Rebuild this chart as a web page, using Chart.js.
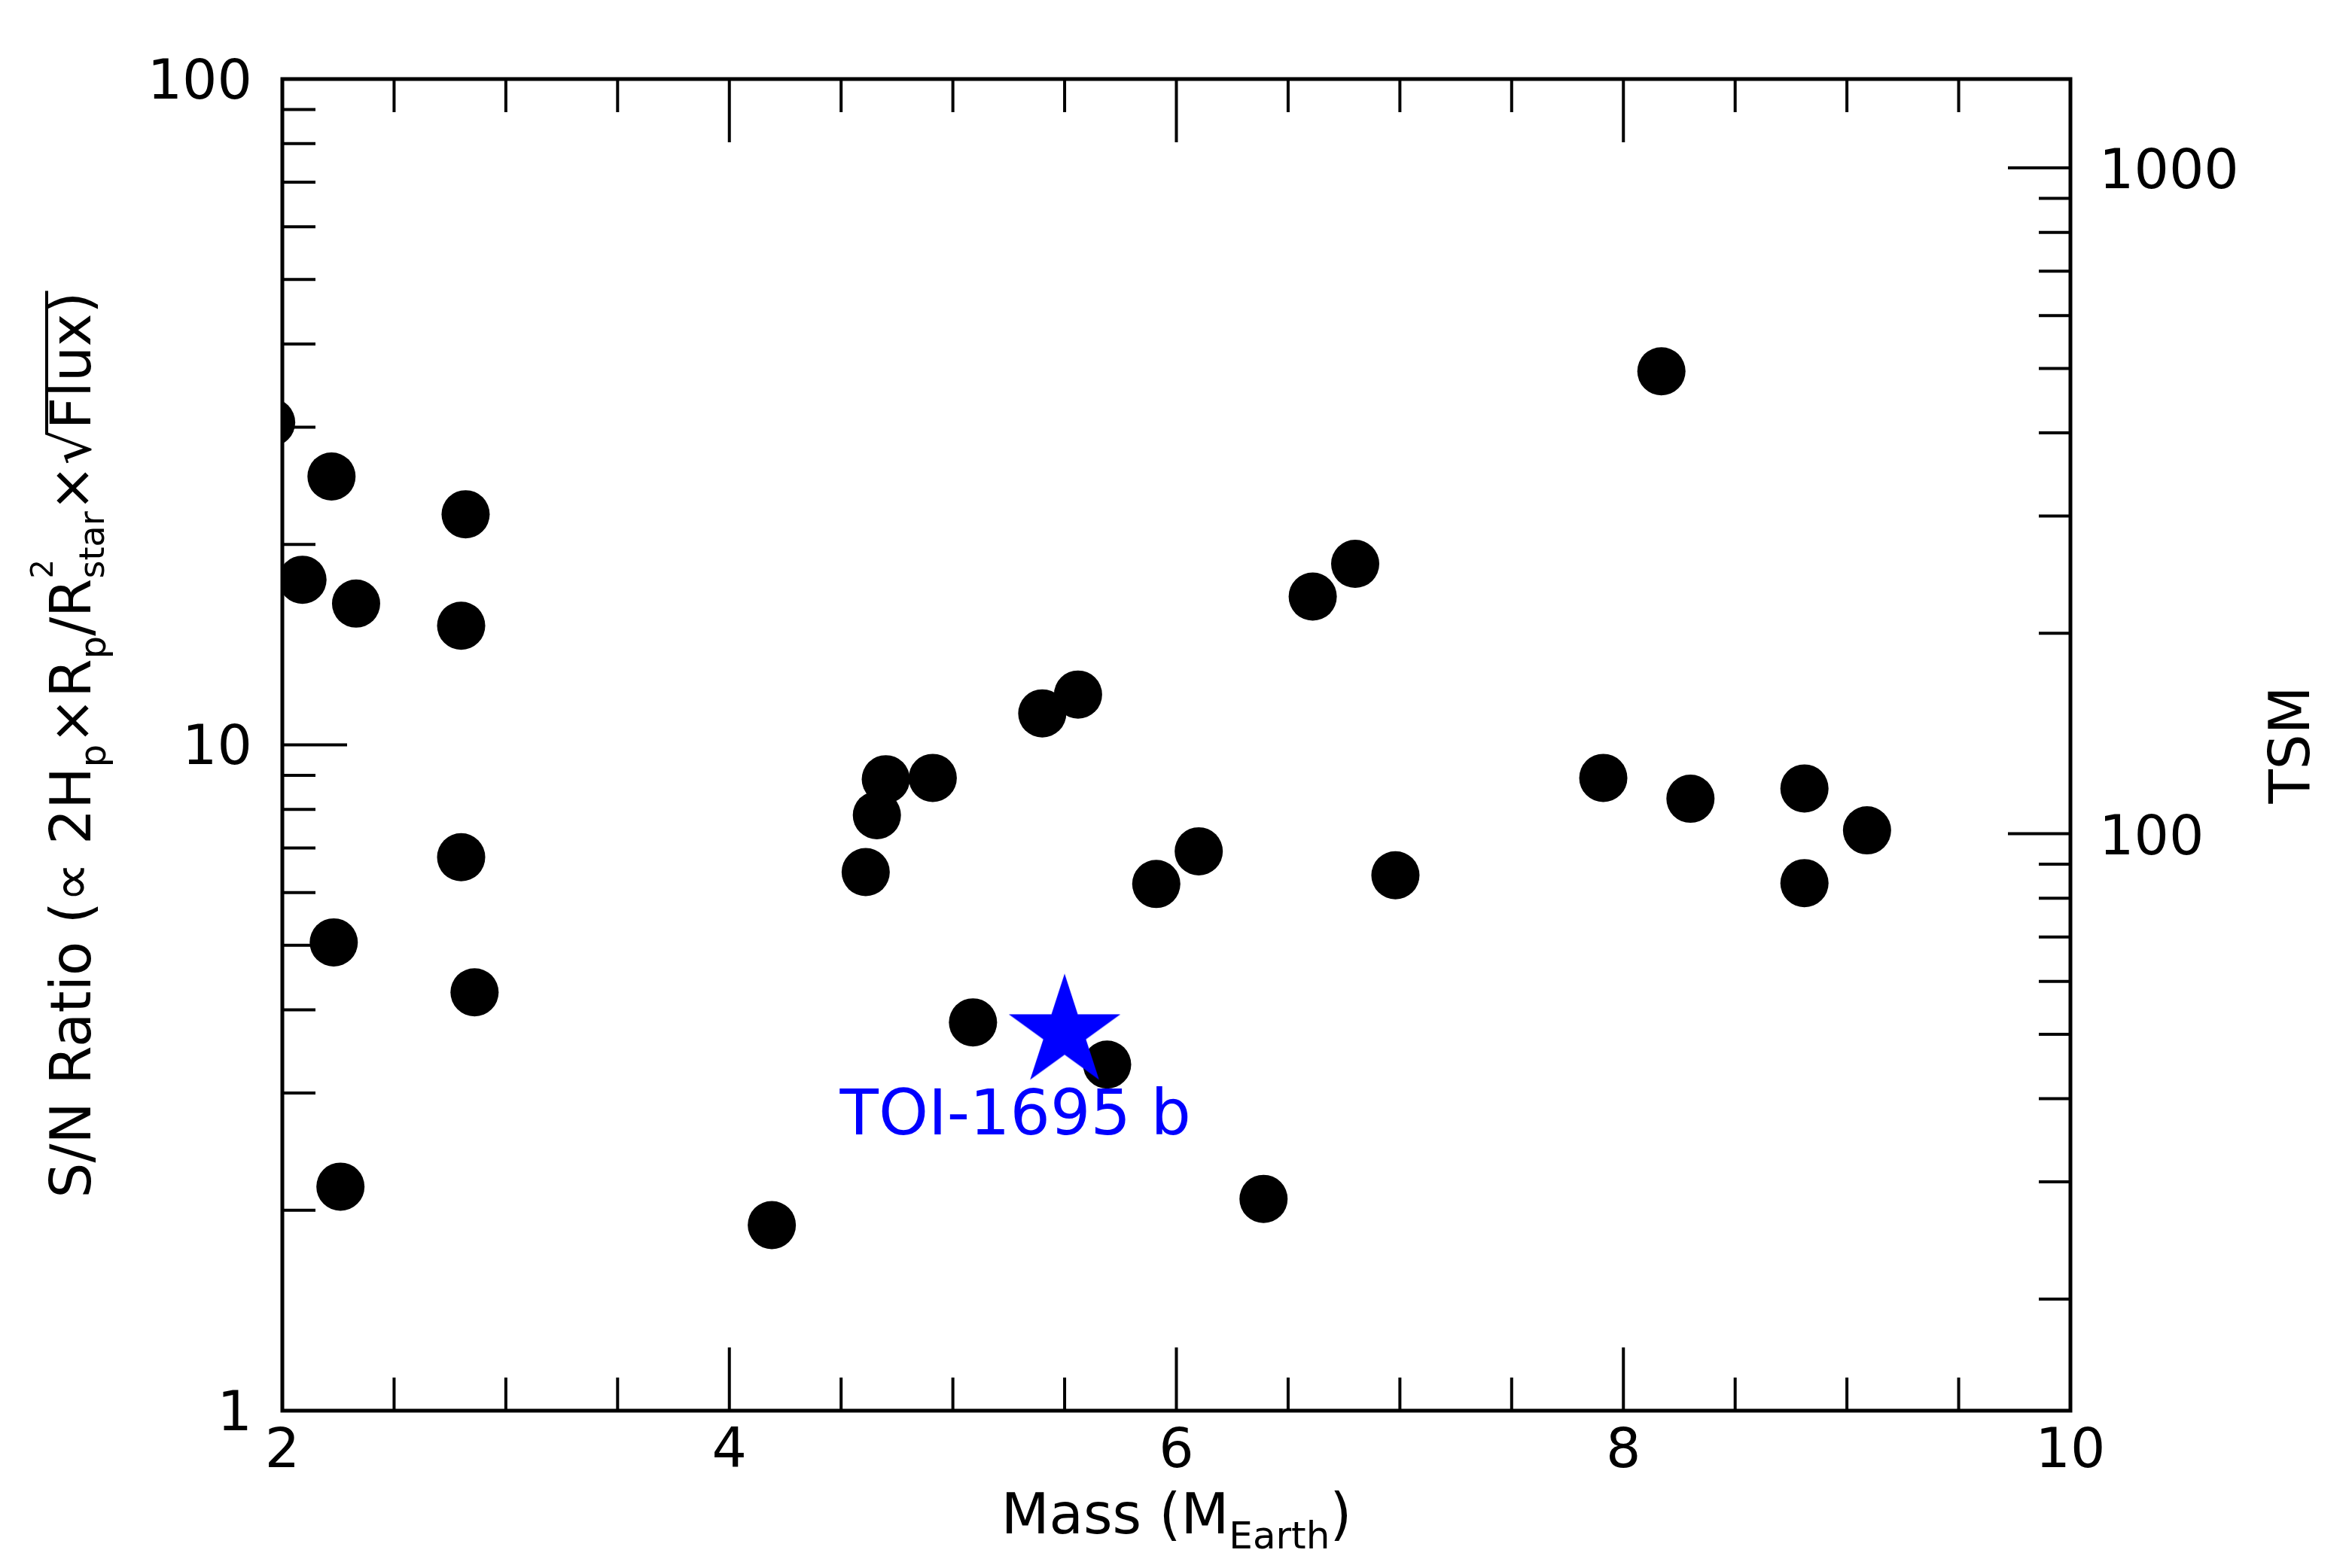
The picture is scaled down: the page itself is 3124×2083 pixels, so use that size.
<!DOCTYPE html>
<html>
<head>
<meta charset="utf-8">
<script src="https://cdn.jsdelivr.net/npm/chart.js@4.4.1/dist/chart.umd.min.js"></script>
<style>
  html, body { margin: 0; padding: 0; background: #fff; }
  #wrap { width: 3124px; height: 2083px; }
</style>
</head>
<body>
<div id="wrap"><canvas id="grafico"></canvas></div>
<script>
// planet sample (mass in Earth masses, S/N ratio)
const massPlanets = [1.95, 2.22, 2.09, 2.33, 2.82, 2.80, 2.80, 2.23, 2.86, 2.26,
    4.19, 4.61, 4.66, 4.70, 4.91, 5.09, 5.40, 5.56, 5.69, 5.91,
    6.10, 6.39, 6.61, 6.80, 6.98, 7.91, 8.17, 8.30, 8.81, 8.81, 9.09];
const snPlanets = [30.5, 25.3, 17.7, 16.3, 22.2, 15.1, 6.78, 5.05, 4.25, 2.17,
    1.90, 6.44, 7.84, 8.88, 8.92, 3.83, 11.15, 11.9, 3.31, 6.18,
    6.92, 2.08, 16.7, 18.7, 6.37, 8.92, 36.4, 8.30, 8.60, 6.20, 7.44];

const massToi = [5.50];
const snToi = [3.70];
const toiLabel = "TOI-1695 b";
const toiLabelPos = [5.28, 2.6];

const xRange = [2, 10];
const xMajorTicks = [2, 4, 6, 8, 10];
const xMinorTicks = [2.5, 3, 3.5, 4.5, 5, 5.5, 6.5, 7, 7.5, 8.5, 9, 9.5];
const yRange = [1, 100];
const yMajorTicks = [1, 10, 100];
const yMinorTicks = [2, 3, 4, 5, 6, 7, 8, 9, 20, 30, 40, 50, 60, 70, 80, 90];
const tsmRange = [13.6, 1360];
const tsmMajorTicks = [100, 1000];
const tsmMinorTicks = [20, 30, 40, 50, 60, 70, 80, 90, 200, 300, 400, 500, 600, 700, 800, 900];

const FONT = "DejaVu Sans";
Chart.defaults.font.family = FONT;
Chart.defaults.color = "#000";

function hacerEstrella(R, color) {
    const c = document.createElement("canvas");
    const size = Math.ceil(R * 2 + 4);
    c.width = size;
    c.height = size;
    const g = c.getContext("2d");
    const r = R * 0.382;
    g.translate(size / 2, size / 2);
    g.beginPath();
    for (let k = 0; k < 10; k++) {
        const a = -Math.PI / 2 + k * Math.PI / 5;
        const rr = k % 2 ? r : R;
        g.lineTo(rr * Math.cos(a), rr * Math.sin(a));
    }
    g.closePath();
    g.fillStyle = color;
    g.fill();
    return c;
}

// draws a run of text pieces with sub/superscripts, starting at x on baseline y
function textoRico(ctx, parts, x, y, draw) {
    let cx = x;
    parts.forEach(p => {
        if (p.sup !== undefined) {
            ctx.font = p.s1 + "px '" + FONT + "'";
            const w1 = ctx.measureText(p.sup).width;
            if (draw) ctx.fillText(p.sup, cx, y - p.up);
            ctx.font = p.s2 + "px '" + FONT + "'";
            const w2 = ctx.measureText(p.sub).width;
            if (draw) ctx.fillText(p.sub, cx, y + p.down);
            cx += Math.max(w1, w2);
        } else {
            ctx.font = p.s + "px '" + FONT + "'";
            const w = ctx.measureText(p.t).width;
            if (draw) {
                ctx.fillText(p.t, cx, y + (p.dy || 0));
                if (p.ov) {
                    ctx.save();
                    ctx.lineWidth = 4;
                    ctx.beginPath();
                    ctx.moveTo(cx - 6, y - 58);
                    ctx.lineTo(cx + w + 30, y - 58);
                    ctx.stroke();
                    ctx.restore();
                }
            }
            cx += w;
        }
    });
    return cx - x;
}

const tituloX = [
    { t: "Mass (M", s: 74 },
    { t: "Earth", s: 50, dy: 20 },
    { t: ")", s: 74 }
];
const tituloY = [
    { t: "S/N Ratio (\u221D 2H", s: 74 },
    { t: "p", s: 48, dy: 20 },
    { t: "\u00D7R", s: 74 },
    { t: "p", s: 48, dy: 20 },
    { t: "/R", s: 74 },
    { sup: "2", sub: "star", s1: 40, s2: 46, up: 50, down: 18 },
    { t: "\u00D7\u221A", s: 74 },
    { t: "Flux", s: 74, ov: true },
    { t: ")", s: 74 }
];

const marcos = {
    id: "marcos",
    afterDraw(chart) {
        const ctx = chart.ctx;
        const a = chart.chartArea;
        const xs = chart.scales.x, ys = chart.scales.y, ts = chart.scales.y2;
        ctx.save();
        ctx.strokeStyle = "#000";
        ctx.fillStyle = "#000";

        ctx.lineWidth = 4;
        const marcas = (vals, len) => {
            vals.forEach(v => {
                const px = xs.getPixelForValue(v);
                ctx.beginPath();
                ctx.moveTo(px, a.bottom); ctx.lineTo(px, a.bottom - len);
                ctx.moveTo(px, a.top); ctx.lineTo(px, a.top + len);
                ctx.stroke();
            });
        };
        marcas(xMajorTicks, 84);
        marcas(xMinorTicks, 44);
        const marcasY = (scale, vals, len, lado) => {
            vals.forEach(v => {
                const py = scale.getPixelForValue(v);
                const x0 = lado === "left" ? a.left : a.right;
                const x1 = lado === "left" ? a.left + len : a.right - len;
                ctx.beginPath();
                ctx.moveTo(x0, py); ctx.lineTo(x1, py);
                ctx.stroke();
            });
        };
        marcasY(ys, yMajorTicks, 86, "left");
        marcasY(ys, yMinorTicks, 44, "left");
        marcasY(ts, tsmMajorTicks, 83, "right");
        marcasY(ts, tsmMinorTicks, 42, "right");

        ctx.lineWidth = 5;
        ctx.strokeRect(a.left, a.top, a.right - a.left, a.bottom - a.top);

        // annotation
        ctx.fillStyle = "#0000ff";
        ctx.font = "84px '" + FONT + "'";
        ctx.textAlign = "center";
        ctx.textBaseline = "alphabetic";
        ctx.fillText(toiLabel, xs.getPixelForValue(toiLabelPos[0]), ys.getPixelForValue(toiLabelPos[1]));

        // axis titles
        ctx.fillStyle = "#000";
        ctx.textAlign = "left";
        const wx = textoRico(ctx, tituloX, 0, 0, false);
        textoRico(ctx, tituloX, (a.left + a.right) / 2 - wx / 2, 2037, true);

        const wy = textoRico(ctx, tituloY, 0, 0, false);
        ctx.save();
        ctx.translate(120, (a.top + a.bottom) / 2);
        ctx.rotate(-Math.PI / 2);
        textoRico(ctx, tituloY, -wy / 2, 0, true);
        ctx.restore();

        ctx.save();
        ctx.font = "74px '" + FONT + "'";
        const wt = ctx.measureText("TSM").width;
        ctx.translate(3067, (a.top + a.bottom) / 2);
        ctx.rotate(-Math.PI / 2);
        ctx.fillText("TSM", -wt / 2, 0);
        ctx.restore();

        ctx.restore();
    }
};

const ctx = document.getElementById("grafico").getContext("2d");
new Chart(ctx, {
    type: "scatter",
    data: {
        datasets: [
            {
                label: toiLabel,
                data: massToi.map((m, i) => ({ x: m, y: snToi[i] })),
                pointStyle: hacerEstrella(78, "#0000ff"),
                pointRadius: 78,
                order: 0,
                clip: 0
            },
            {
                label: "planets",
                data: massPlanets.map((m, i) => ({ x: m, y: snPlanets[i] })),
                pointStyle: "circle",
                pointRadius: 32,
                pointBorderWidth: 0,
                backgroundColor: "#000",
                borderColor: "#000",
                order: 1,
                clip: 0
            }
        ]
    },
    options: {
        responsive: true,
        maintainAspectRatio: false,
        devicePixelRatio: 1,
        animation: false,
        layout: { padding: { top: 105, left: 0, right: 0, bottom: 0 } },
        plugins: { legend: { display: false }, tooltip: { enabled: false } },
        scales: {
            x: {
                type: "linear",
                position: "bottom",
                min: xRange[0],
                max: xRange[1],
                grid: { display: false, drawTicks: false },
                border: { display: false },
                afterBuildTicks: s => { s.ticks = xMajorTicks.map(v => ({ value: v })); },
                afterFit: s => { s.height = 209; },
                ticks: { font: { size: 73 }, padding: 12, maxRotation: 0, color: "#000",
                         callback: v => String(v) }
            },
            y: {
                type: "logarithmic",
                position: "left",
                min: yRange[0],
                max: yRange[1],
                grid: { display: false, drawTicks: false },
                border: { display: false },
                afterBuildTicks: s => { s.ticks = yMajorTicks.map(v => ({ value: v })); },
                afterFit: s => { s.width = 375; },
                ticks: { font: { size: 73 }, padding: 40, labelOffset: 7, color: "#000",
                         callback: v => String(v) }
            },
            y2: {
                type: "logarithmic",
                position: "right",
                min: tsmRange[0],
                max: tsmRange[1],
                grid: { display: false, drawTicks: false },
                border: { display: false },
                afterBuildTicks: s => { s.ticks = tsmMajorTicks.map(v => ({ value: v })); },
                afterFit: s => { s.width = 374; },
                ticks: { font: { size: 73 }, padding: 38, labelOffset: 8, color: "#000",
                         callback: v => String(v) }
            }
        }
    },
    plugins: [marcos]
});
</script>
</body>
</html>
